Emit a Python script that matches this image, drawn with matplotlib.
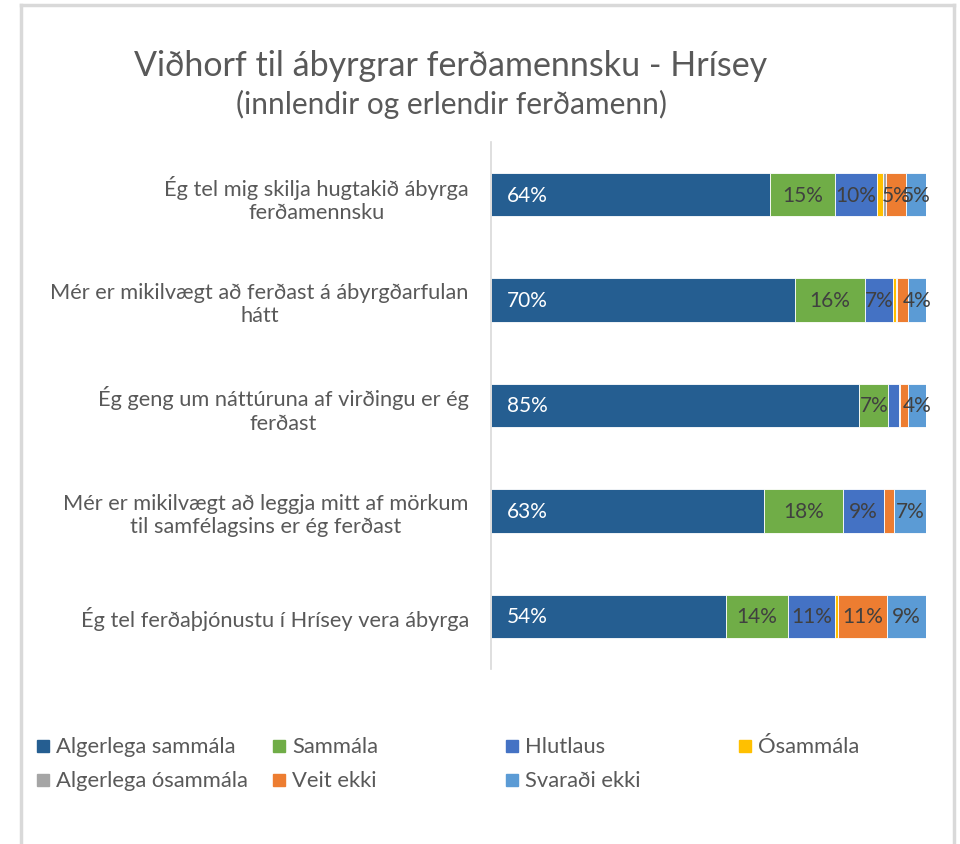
import numpy as np
import matplotlib.pyplot as plt
from matplotlib.lines import Line2D
from matplotlib.patches import Rectangle

plt.rcParams['font.family'] = ['Lato', 'DejaVu Sans']

W, H = 960, 845

title = "Viðhorf til ábyrgrar ferðamennsku - Hrísey"
subtitle = "(innlendir og erlendir ferðamenn)"

statements = [
    "Ég tel mig skilja hugtakið ábyrga\nferðamennsku",
    "Mér er mikilvægt að ferðast á ábyrgðarfulan\nhátt",
    "Ég geng um náttúruna af virðingu er ég\nferðast",
    "Mér er mikilvægt að leggja mitt af mörkum\ntil samfélagsins er ég ferðast",
    "Ég tel ferðaþjónustu í Hrísey vera ábyrga",
]

answers = ["Algerlega sammála", "Sammála", "Hlutlaus", "Ósammála",
           "Algerlega ósammála", "Veit ekki", "Svaraði ekki"]
colors = ["#255E91", "#70AD47", "#4472C4", "#FFC000",
          "#A5A5A5", "#ED7D31", "#5B9BD5"]

# share of respondents (%) per statement, one list per answer
algerlega_sammala = [64.2, 69.8, 84.7, 62.7, 54.0]
sammala = [14.8, 16.1, 6.6, 18.2, 14.3]
hlutlaus = [9.7, 6.6, 2.6, 9.4, 10.8]
osammala = [1.3, 0.5, 0.0, 0.0, 0.7]
algerlega_osammala = [0.8, 0.4, 0.2, 0.0, 0.0]
veit_ekki = [4.6, 2.5, 1.8, 2.3, 11.2]
svaradi_ekki = [4.6, 4.1, 4.1, 7.4, 9.0]

series = [algerlega_sammala, sammala, hlutlaus, osammala,
          algerlega_osammala, veit_ekki, svaradi_ekki]

grey = "#595959"

fig = plt.figure(figsize=(W / 100, H / 100), dpi=100)
ax = fig.add_axes([491 / W, 1 - 670 / H, 435 / W, 527 / H])

y = np.arange(len(statements))
left = np.zeros(len(statements))
for i, (vals, col) in enumerate(zip(series, colors)):
    vals = np.array(vals)
    ax.barh(y, vals, left=left, height=0.41, color=col,
            edgecolor="white", linewidth=0.6)
    for yy, v, l in zip(y, vals, left):
        if v < 3:
            continue
        if i == 0:
            # first segment labels sit near the bar start
            ax.text(l + 8.3, yy, f"{v:.0f}%", ha="center", va="center",
                    color="white", fontsize=15)
        else:
            ax.text(l + v / 2, yy, f"{v:.0f}%", ha="center", va="center",
                    color="#404040", fontsize=15)
    left += vals

ax.set_xlim(0, 100)
ax.set_ylim(len(statements) - 0.5, -0.5)
ax.set_yticks(y)
ax.set_yticklabels(statements, fontsize=15.7, color=grey)
for t in ax.get_yticklabels():
    t.set_multialignment("center")
ax.tick_params(axis="y", length=0, pad=16)
ax.set_xticks([])
for side in ["top", "right", "bottom"]:
    ax.spines[side].set_visible(False)
ax.spines["left"].set_color("#D9D9D9")
ax.spines["left"].set_linewidth(1.2)

# titles
fig.text(451 / W, 1 - 66 / H, title, ha="center", va="center",
         fontsize=24.5, color=grey)
fig.text(451 / W, 1 - 104 / H, subtitle, ha="center", va="center",
         fontsize=21.5, color=grey)

# legend laid out on a fixed grid
col_x = [37, 273, 506, 739]
row_y = [747, 781]
for k, (name, col) in enumerate(zip(answers, colors)):
    r, c = divmod(k, 4)
    x0, y0 = col_x[c], row_y[r]
    fig.add_artist(Rectangle((x0 / W, 1 - (y0 + 6) / H), 12 / W, 12 / H,
                             transform=fig.transFigure, color=col))
    fig.text((x0 + 19) / W, 1 - y0 / H, name, ha="left", va="center",
             fontsize=15.8, color=grey)

# chart frame
frame = dict(color="#D9D9D9", linewidth=2.5, transform=fig.transFigure)
fig.add_artist(Line2D([21 / W, 954 / W], [1 - 6 / H, 1 - 6 / H], **frame))
fig.add_artist(Line2D([21 / W, 21 / W], [1 - 6 / H, 0], **frame))
fig.add_artist(Line2D([954 / W, 954 / W], [1 - 6 / H, 0], **frame))

fig.savefig("out.png", dpi=100)
